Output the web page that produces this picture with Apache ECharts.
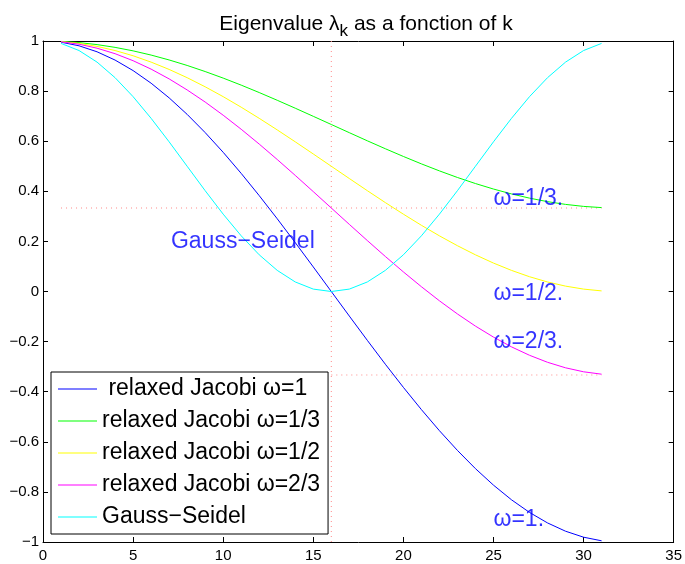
<!DOCTYPE html>
<html>
<head>
<meta charset="utf-8">
<script src="https://cdn.jsdelivr.net/npm/echarts@6/dist/echarts.min.js"></script>
<style>html,body{margin:0;padding:0;background:#fff}#c{width:685px;height:564px}</style>
</head>
<body>
<div id="c"></div>
<script>
const kValues = [1,2,3,4,5,6,7,8,9,10,11,12,13,14,15,16,17,18,19,20,21,22,23,24,25,26,27,28,29,30,31];
const jacobi1 = [0.9952,0.9808,0.9569,0.9239,0.8819,0.8315,0.7730,0.7071,0.6344,0.5556,0.4714,0.3827,0.2903,0.1951,0.0980,0.0,-0.0980,-0.1951,-0.2903,-0.3827,-0.4714,-0.5556,-0.6344,-0.7071,-0.7730,-0.8315,-0.8819,-0.9239,-0.9569,-0.9808,-0.9952];
const jacobi13 = [0.9984,0.9936,0.9856,0.9746,0.9606,0.9438,0.9243,0.9024,0.8781,0.8519,0.8238,0.7942,0.7634,0.7317,0.6993,0.6667,0.6340,0.6016,0.5699,0.5391,0.5095,0.4815,0.4552,0.4310,0.4090,0.3895,0.3727,0.3587,0.3477,0.3397,0.3349];
const jacobi12 = [0.9976,0.9904,0.9785,0.9619,0.9410,0.9157,0.8865,0.8536,0.8172,0.7778,0.7357,0.6913,0.6451,0.5975,0.5490,0.5000,0.4510,0.4025,0.3549,0.3087,0.2643,0.2222,0.1828,0.1464,0.1135,0.0843,0.0590,0.0381,0.0215,0.0096,0.0024];
const jacobi23 = [0.9968,0.9872,0.9713,0.9493,0.9213,0.8877,0.8487,0.8047,0.7563,0.7037,0.6476,0.5885,0.5269,0.4634,0.3987,0.3333,0.2680,0.2033,0.1398,0.0782,0.0191,-0.0371,-0.0896,-0.1381,-0.1820,-0.2210,-0.2546,-0.2826,-0.3046,-0.3205,-0.3301];
const gaussSeidel = [0.9904,0.9619,0.9157,0.8536,0.7778,0.6913,0.5975,0.5000,0.4025,0.3087,0.2222,0.1464,0.0843,0.0381,0.0096,0.0,0.0096,0.0381,0.0843,0.1464,0.2222,0.3087,0.4025,0.5000,0.5975,0.6913,0.7778,0.8536,0.9157,0.9619,0.9904];

const seriesNames = [' relaxed Jacobi \u03c9=1', 'relaxed Jacobi \u03c9=1/3', 'relaxed Jacobi \u03c9=1/2', 'relaxed Jacobi \u03c9=2/3', 'Gauss\u2212Seidel'];
const seriesColors = ['#0000ff', '#00ff00', '#ffff00', '#ff00ff', '#00ffff'];
const seriesValues = [jacobi1, jacobi13, jacobi12, jacobi23, gaussSeidel];

// reference dotted lines
const refVertical = [[16, 1], [16, -1]];
const refThird = [[1, 0.3333], [31, 0.3333]];
const refMinusThird = [[16, -0.3333], [31, -0.3333]];

// annotations
const annotX = [25, 25, 25, 25, 7.1];
const annotY = [0.37, -0.01, -0.2, -0.91, 0.2];
const annotText = ['\u03c9=1/3.', '\u03c9=1/2.', '\u03c9=2/3.', '\u03c9=1.', 'Gauss\u2212Seidel'];

const xTicks = {min: 0, max: 35, interval: 5};
const yTicks = {min: -1, max: 1, interval: 0.2};

const FONT = '"Liberation Sans", Arial, Helvetica, sans-serif';
const chart = echarts.init(document.getElementById('c'), null, {renderer: 'canvas'});

function axisBase(show, margin) {
  return {
    axisLine: {show: true, onZero: false, lineStyle: {color: '#000', width: 1}},
    axisTick: {show: true, inside: true, length: 5, lineStyle: {color: '#000'}},
    splitLine: {show: false},
    axisLabel: {show: show, color: '#000', fontSize: 15, fontFamily: FONT, margin: margin,
      formatter: v => String(Math.round(v * 10) / 10).replace('-', '\u2212')}
  };
}

const series = [];
seriesValues.forEach((vals, i) => {
  series.push({
    name: seriesNames[i], type: 'line', symbol: 'none', showSymbol: false,
    data: kValues.map((k, j) => [k, vals[j]]),
    lineStyle: {color: seriesColors[i], width: 1}, itemStyle: {color: seriesColors[i]},
    animation: false, z: 3
  });
});
[refVertical, refThird, refMinusThird].forEach(r => {
  series.push({
    type: 'line', symbol: 'none', data: r, silent: true, animation: false,
    lineStyle: {color: '#ff8a8a', width: 1, type: [1, 4]}, z: 2
  });
});
series.push({
  type: 'scatter', symbolSize: 0, silent: true, animation: false, z: 4,
  data: annotX.map((x, i) => ({value: [x, annotY[i]], label: {formatter: annotText[i]}})),
  label: {show: true, position: 'right', distance: 0, color: '#0000ff', fontSize: 23, fontFamily: FONT, align: 'left', verticalAlign: 'middle'}
});

chart.setOption({
  animation: false,
  backgroundColor: '#fff',
  title: {
    text: 'Eigenvalue \u03bb{sub|k} as a fonction of k', left: 361, textAlign: 'center', top: 4,
    textStyle: {color: '#000', fontSize: 21, fontWeight: 'normal', fontFamily: FONT,
      rich: {sub: {fontSize: 17, fontFamily: FONT, color: '#000', padding: [14, 0, 0, 0]}}}
  },
  grid: {left: 43, right: 6, top: 41, bottom: 22, containLabel: false},
  legend: {
    show: true,
    data: seriesNames.map(n => ({name: n, icon: 'rect'})),
    orient: 'vertical', left: 51, top: 372,
    backgroundColor: '#fff', borderColor: '#000', borderWidth: 1, borderRadius: 0,
    padding: [4, 8, 4, 7], itemWidth: 39, itemHeight: 1, itemGap: 6,
    textStyle: {color: '#000', fontSize: 23, fontFamily: FONT, lineHeight: 26},
    z: 10
  },
  xAxis: [
    Object.assign({type: 'value', position: 'bottom'}, xTicks, axisBase(true, 6)),
    Object.assign({type: 'value', position: 'top'}, xTicks, axisBase(false, 6))
  ],
  yAxis: [
    Object.assign({type: 'value', position: 'left'}, yTicks, axisBase(true, 4)),
    Object.assign({type: 'value', position: 'right'}, yTicks, axisBase(false, 4))
  ],
  series: series
});
</script>
</body>
</html>
